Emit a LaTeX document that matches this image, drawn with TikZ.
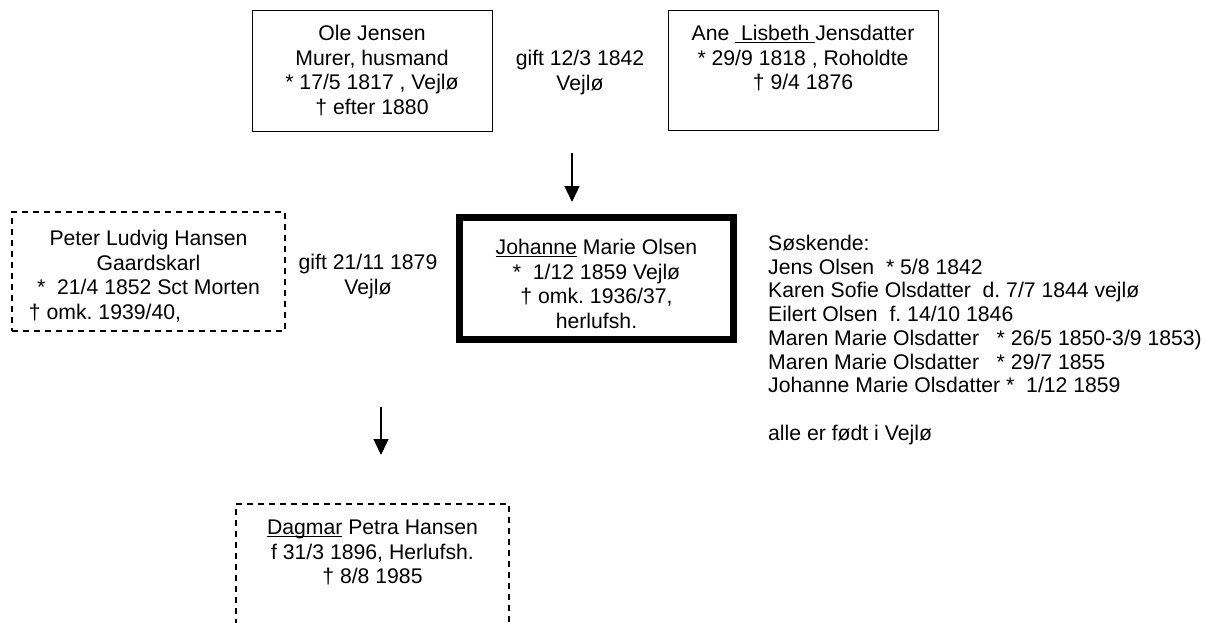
\documentclass[tikz,border=0pt]{standalone}
\usepackage{fontspec}
\setmainfont{Liberation Sans}
\usetikzlibrary{arrows.meta}
\frenchspacing
\newcommand\myul[1]{\leavevmode\setbox0\hbox{#1}\rlap{\rule[-2.3pt]{\wd0}{1.1pt}}\box0\relax}
\tikzset{
  txt/.style={inner sep=0pt, align=center, font=\fontsize{21.2}{24.5}\selectfont},
  solidbox/.style={txt, draw, line width=1pt},
  dashbox/.style={txt, draw, line width=1.1pt, dash pattern=on 6pt off 5pt},
  thickbox/.style={txt, draw, line width=7pt},
  arr/.style={line width=1.3pt, -{Triangle[width=15pt,length=16pt]}},
}
\begin{document}
\begin{tikzpicture}[x=1pt,y=-1pt]
\useasboundingbox (0,0) rectangle (1205,622);
\clip (0,0) rectangle (1205,622);

\node[solidbox, minimum width=240, minimum height=121] (ole) at (372,70.5)
  {Ole Jensen\\Murer, husmand\\* 17/5 1817 , Vejlø\\† efter 1880};
\node[txt] (gift1) at (580,72.4) {gift 12/3 1842\\Vejlø};
\node[solidbox, minimum width=270, minimum height=120] (ane) at (803,70)
  {Ane \myul{\ Lisbeth\ }Jensdatter\\* 29/9 1818 , Roholdte\\† 9/4 1876\\\mbox{}};

\coordinate (a1s) at (572,153);
\coordinate (a1e) at (572,202);
\draw[arr] (a1s) -- (a1e);

\node[dashbox, minimum width=273, minimum height=119] (peter) at (148.5,271.5)
  {\rule{0pt}{25pt}Peter Ludvig Hansen\\Gaardskarl\\*\ \ 21/4 1852 Sct Morten\\† omk. 1939/40,\hspace*{87pt}};
\node[txt] (gift2) at (368,276.4) {gift 21/11 1879\\Vejlø};
\node[thickbox, minimum width=274, minimum height=122] (johanne) at (596.5,278.5)
  {\rule{0pt}{25.7pt}\myul{Johanne} Marie Olsen\\*\ \ 1/12 1859 Vejlø\\† omk. 1936/37,\\herlufsh.};

\node[inner sep=0pt, align=left, font=\fontsize{21.2}{23.7}\selectfont, anchor=north west] (sosk) at (768,235)
  {Søskende:\\
   Jens Olsen\ \ * 5/8 1842\\
   Karen Sofie Olsdatter\ \ d. 7/7 1844 vejlø\\
   Eilert Olsen\ \ f. 14/10 1846\\
   Maren Marie Olsdatter\ \ \ * 26/5 1850-3/9 1853)\\
   Maren Marie Olsdatter\ \ \ * 29/7 1855\\
   Johanne Marie Olsdatter *\ \ 1/12 1859\\[23.7pt]
   alle er født i Vejlø};

\coordinate (a2s) at (381,407);
\coordinate (a2e) at (381,455);
\draw[arr] (a2s) -- (a2e);

\node[dashbox, minimum width=273, minimum height=120] (dagmar) at (372.5,564)
  {\myul{Dagmar} Petra Hansen\\f 31/3 1896, Herlufsh.\\† 8/8 1985\\\mbox{}};
\end{tikzpicture}
\end{document}
